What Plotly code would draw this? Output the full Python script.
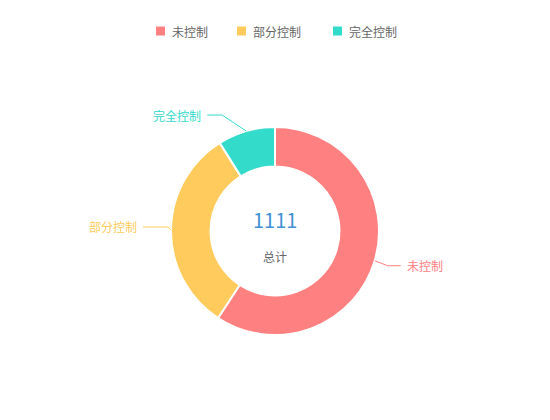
import math
import plotly.graph_objects as go

# ---- data ----
categories = ["未控制", "部分控制", "完全控制"]
values = [658, 354, 99]
colors = ["#FF8080", "#FFCB5C", "#33DBCB"]
total_label = "总计"

# ---- layout constants (pixels, in page coordinates) ----
W, H = 550, 420
PAGE_OFF = 8  # default body margin of the html page
CX, CY, R = 275, 231, 104
HOLE = 0.62
FONT = "Noto Sans CJK SC"
# leader line: elbow offset from the slice edge and horizontal length
elbow_offsets = [(13, 5), (-3, -3), (-24, -16)]
horiz_len = [13, 25, 15]
legend_sq_x = [156, 237, 333]
LEG_Y = 31
SQ = 9

def px(x):
    return (x - PAGE_OFF) / W

def py(y):
    return 1 - (y - PAGE_OFF) / H

fig = go.Figure()
fig.add_trace(go.Pie(
    labels=categories,
    values=values,
    sort=False,
    direction="clockwise",
    rotation=0,
    hole=HOLE,
    textinfo="none",
    hoverinfo="label+value+percent",
    marker=dict(colors=colors, line=dict(color="white", width=2)),
    domain=dict(x=[px(CX - R), px(CX + R)], y=[py(CY + R), py(CY - R)]),
    showlegend=False,
))

shapes = []
annotations = []

# leader lines + outside labels, positioned from slice mid-angles
total = sum(values)
cum = 0
for i, (cat, v) in enumerate(zip(categories, values)):
    mid = (cum + v / 2) / total * 2 * math.pi
    cum += v
    sx = CX + R * math.sin(mid)
    sy = CY - R * math.cos(mid)
    ex = sx + elbow_offsets[i][0]
    ey = sy + elbow_offsets[i][1]
    side = 1 if math.sin(mid) >= 0 else -1
    hx = ex + side * horiz_len[i]
    path = "M {} {} L {} {} L {} {}".format(px(sx), py(sy), px(ex), py(ey), px(hx), py(ey))
    shapes.append(dict(type="path", path=path, xref="paper", yref="paper",
                       line=dict(color=colors[i], width=1)))
    annotations.append(dict(
        x=px(hx + side * 4), y=py(ey), xref="paper", yref="paper",
        text=cat, showarrow=False,
        xanchor="left" if side > 0 else "right", yanchor="middle",
        font=dict(family=FONT, size=12, color=colors[i]),
    ))

# center texts
annotations.append(dict(
    x=px(CX), y=py(219.5), xref="paper", yref="paper",
    text=str(total), showarrow=False, xanchor="center", yanchor="middle",
    font=dict(family=FONT, size=20, color="#4291D6"),
))
annotations.append(dict(
    x=px(CX), y=py(256.5), xref="paper", yref="paper",
    text=total_label, showarrow=False, xanchor="center", yanchor="middle",
    font=dict(family=FONT, size=12, color="#666666"),
))

# legend
for i, cat in enumerate(categories):
    x0 = legend_sq_x[i]
    shapes.append(dict(type="rect", xref="paper", yref="paper",
                       x0=px(x0), x1=px(x0 + SQ), y0=py(LEG_Y + SQ / 2), y1=py(LEG_Y - SQ / 2),
                       fillcolor=colors[i], line=dict(width=0)))
    annotations.append(dict(
        x=px(x0 + SQ + 5), y=py(LEG_Y), xref="paper", yref="paper",
        text=cat, showarrow=False, xanchor="left", yanchor="middle",
        font=dict(family=FONT, size=12, color="#666666"),
    ))

fig.update_layout(
    width=W, height=H,
    margin=dict(l=0, r=0, t=0, b=0),
    paper_bgcolor="white", plot_bgcolor="white",
    shapes=shapes, annotations=annotations,
)

fig.write_html("out.html")
